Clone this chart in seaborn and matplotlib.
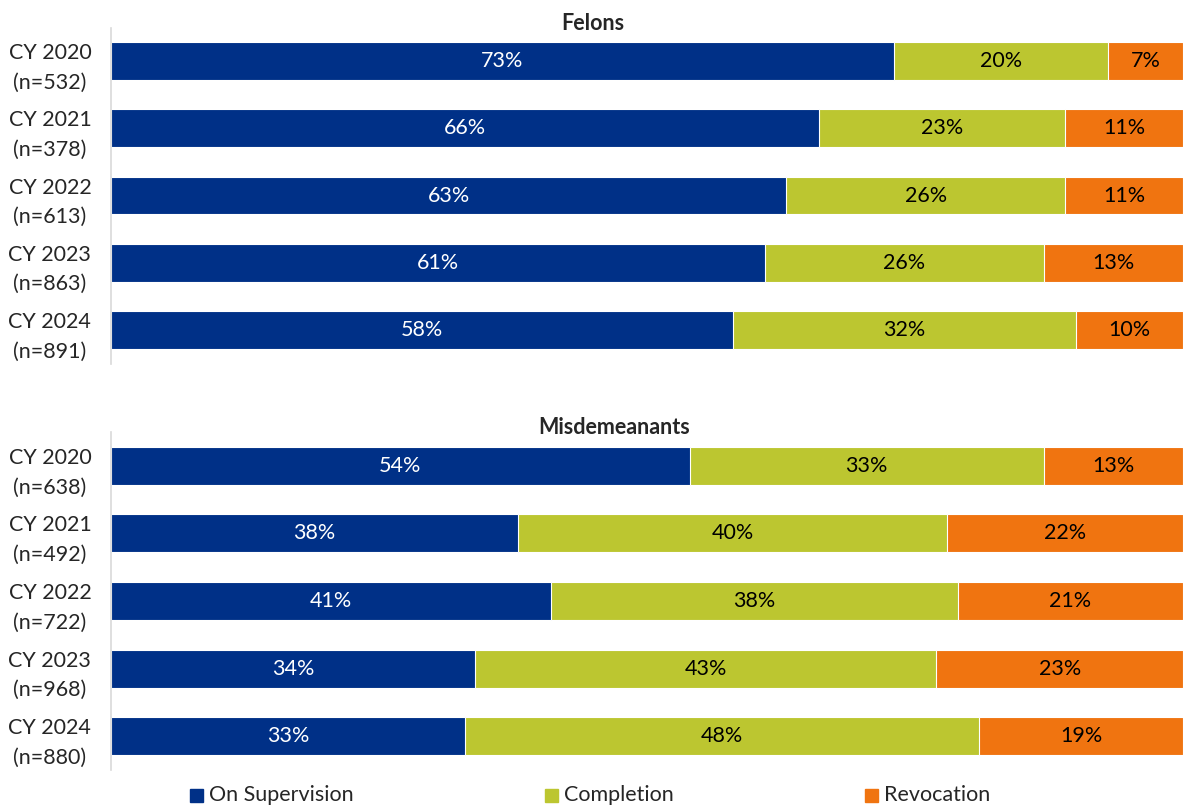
import numpy as np
import pandas as pd
import matplotlib
matplotlib.use("Agg")
import matplotlib.pyplot as plt
import seaborn as sns

years = ["CY 2020", "CY 2021", "CY 2022", "CY 2023", "CY 2024"]
felon_n = [532, 378, 613, 863, 891]
misd_n = [638, 492, 722, 968, 880]

felon_supervision = [73, 66, 63, 61, 58]
felon_completion = [20, 23, 26, 26, 32]
felon_revocation = [7, 11, 11, 13, 10]

misd_supervision = [54, 38, 41, 34, 33]
misd_completion = [33, 40, 38, 43, 48]
misd_revocation = [13, 22, 21, 23, 19]

series_names = ["On Supervision", "Completion", "Revocation"]
colors = ["#003087", "#BCC630", "#F07410"]
label_colors = ["white", "black", "black"]

sns.set_theme(style="white")
plt.rcParams["font.family"] = ["Lato", "DejaVu Sans"]

FS = 15.5
W, H = 1183, 808
fig = plt.figure(figsize=(W / 100, H / 100), dpi=100)


def axes_px(left, top, right, bottom):
    return fig.add_axes([left / W, 1 - bottom / H, (right - left) / W, (bottom - top) / H])


def draw_panel(ax, ns, sup, comp, rev):
    cats = [f"{y}\n(n={n})" for y, n in zip(years, ns)]
    parts = [np.array(sup), np.array(comp), np.array(rev)]
    cum = np.cumsum(parts, axis=0)
    # draw cumulative totals back to front so each segment shows its own share
    for i in range(2, -1, -1):
        df = pd.DataFrame({"cat": cats, "val": cum[i]})
        sns.barplot(data=df, x="val", y="cat", orient="h", color=colors[i],
                    saturation=1, width=0.56, edgecolor="white", linewidth=0.8, ax=ax)
    for i in range(3):
        starts = cum[i] - parts[i]
        for j, (s, v) in enumerate(zip(starts, parts[i])):
            ax.text(s + v / 2, j, f"{v}%", ha="center", va="center",
                    color=label_colors[i], fontsize=FS)
    ax.set_xlim(0, 100)
    ax.set_ylim(4.5, -0.5)
    ax.set_xlabel("")
    ax.set_ylabel("")
    ax.set_xticks([])
    ax.tick_params(axis="y", length=0, pad=44, labelsize=FS)
    for lbl in ax.get_yticklabels():
        lbl.set_horizontalalignment("center")
        lbl.set_linespacing(1.6)
    for side in ["top", "right", "bottom"]:
        ax.spines[side].set_visible(False)
    ax.spines["left"].set_color("#D9D9D9")
    ax.spines["left"].set_linewidth(1.2)
    return ax


ax1 = axes_px(111, 27.5, 1183, 363.5)
draw_panel(ax1, felon_n, felon_supervision, felon_completion, felon_revocation)
ax2 = axes_px(111, 432, 1183, 770)
draw_panel(ax2, misd_n, misd_supervision, misd_completion, misd_revocation)

fig.text(593 / W, 1 - 23 / H, "Felons", ha="center", va="center",
         fontsize=FS, fontweight="bold")
fig.text(614 / W, 1 - 427 / H, "Misdemeanants", ha="center", va="center",
         fontsize=FS, fontweight="bold")

# legend row
leg_x = [190, 545, 865]
for x, c, name in zip(leg_x, colors, series_names):
    fig.patches.append(plt.Rectangle((x / W, 1 - 802 / H), 13 / W, 13 / H,
                                     transform=fig.transFigure, color=c, figure=fig))
    fig.text((x + 19) / W, 1 - 795 / H, name, ha="left", va="center", fontsize=FS)

fig.savefig("out.png", dpi=100, facecolor="white")
